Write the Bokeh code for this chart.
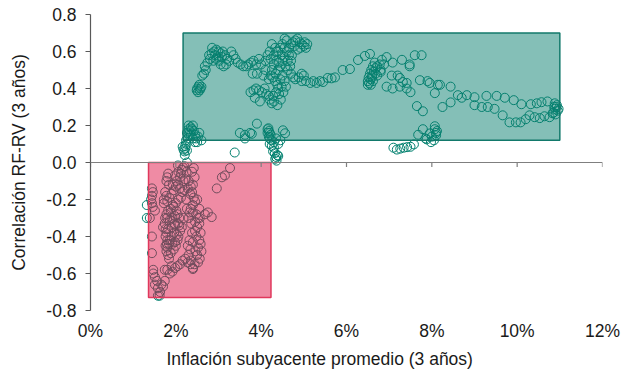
from bokeh.plotting import figure
from bokeh.models import Span, FixedTicker, NumeralTickFormatter, Range1d, Title
from bokeh.embed import file_html
from bokeh.resources import INLINE

# ---------------- data ----------------
# Regime boxes (x in %, y correlation)
box_left = [2.17, 1.36]
box_right = [11.0, 4.23]
box_top = [0.70, 0.0]
box_bottom = [0.12, -0.73]
box_fill = ["#0A8070", "#E0184A"]
box_line = ["#12796B", "#E0385C"]

# Negative-correlation episode (low inflation)
neg_x = [1.44, 1.46, 1.44, 1.42, 1.44, 1.46, 1.51, 1.39, 1.32, 1.32, 1.44, 1.44, 1.47, 1.47,
         1.51, 1.56, 1.51, 1.58, 1.63, 1.58, 1.62, 1.70, 1.74, 1.66,
         1.75, 1.78, 1.72, 1.80, 1.85, 1.90, 1.95, 2.00, 2.05, 2.10, 2.15, 2.12, 2.06, 2.00,
         1.95, 1.88, 1.82, 1.78, 1.80, 1.86, 1.92, 1.98, 2.04, 2.08, 2.05, 1.98, 1.90, 1.82,
         1.78, 1.76, 1.80, 1.84, 1.80, 1.78, 1.82, 1.88, 1.95, 2.00, 2.04, 2.02, 1.96, 1.90,
         1.86, 1.92, 1.98, 2.06, 2.10, 2.08, 1.74, 1.76, 1.79, 1.84, 1.88, 1.93, 1.97, 2.01,
         1.80, 1.82, 1.78, 1.84, 1.93, 1.98, 2.02, 2.06, 2.10, 2.14, 2.05, 2.17, 2.26, 2.20,
         2.12, 2.18, 1.72, 1.76, 1.70, 1.75,
         2.30, 2.35, 2.38, 2.42, 2.45, 2.40, 2.35, 2.40, 2.48, 2.52, 2.55, 2.50, 2.45, 2.48,
         2.55, 2.58, 2.52, 2.46, 2.50, 2.56, 2.52, 2.44, 2.40, 2.35, 2.30, 2.28, 2.32, 2.38,
         2.36, 2.30, 2.32, 2.40, 2.45, 2.58, 2.60, 2.55, 2.50, 2.25, 2.22, 2.28, 2.34, 2.40,
         2.44, 2.20, 2.24, 2.26, 2.18, 2.14, 2.38, 2.42, 2.34,
         1.80, 1.86, 1.92, 1.98, 2.04, 2.10, 2.16, 2.22, 2.28, 2.34, 1.74, 1.90, 2.40,
         2.56, 2.68, 2.75, 2.84, 2.96, 3.08, 3.15, 3.27]
neg_y = [-0.14, -0.16, -0.18, -0.20, -0.22, -0.24, -0.26, -0.30, -0.23, -0.30, -0.40, -0.49, -0.58, -0.60,
         -0.62, -0.64, -0.66, -0.68, -0.70, -0.72, -0.72, -0.67, -0.64, -0.66,
         -0.16, -0.18, -0.20, -0.21, -0.19, -0.17, -0.15, -0.13, -0.12, -0.14, -0.16, -0.19, -0.20, -0.22,
         -0.24, -0.25, -0.26, -0.28, -0.30, -0.31, -0.30, -0.29, -0.28, -0.30, -0.33, -0.34, -0.35, -0.36,
         -0.38, -0.40, -0.42, -0.44, -0.46, -0.48, -0.50, -0.49, -0.47, -0.45, -0.42, -0.39, -0.38, -0.40,
         -0.42, -0.44, -0.43, -0.40, -0.37, -0.34, -0.33, -0.36, -0.44, -0.52, -0.27, -0.23, -0.33, -0.26,
         -0.08, -0.06, -0.10, -0.12, -0.12, -0.07, -0.10, -0.05, -0.08, -0.04, -0.016, -0.027, 0.0, -0.02,
         -0.06, -0.10, -0.22, -0.45, -0.35, -0.30,
         -0.10, -0.13, -0.16, -0.19, -0.21, -0.23, -0.25, -0.27, -0.28, -0.30, -0.33, -0.35, -0.37, -0.40,
         -0.42, -0.44, -0.46, -0.48, -0.50, -0.52, -0.54, -0.55, -0.57, -0.53, -0.50, -0.45, -0.42, -0.38,
         -0.33, -0.30, -0.27, -0.43, -0.32, -0.38, -0.48, -0.25, -0.20, -0.05, -0.09, -0.14, -0.17, -0.12,
         -0.08, -0.15, -0.20, -0.25, -0.30, -0.35, -0.05, -0.03, -0.47,
         -0.58, -0.60, -0.59, -0.57, -0.56, -0.55, -0.53, -0.52, -0.54, -0.55, -0.58, -0.56, -0.576,
         -0.30, -0.28, -0.27, -0.295, -0.14, -0.08, -0.07, -0.03]

# Positive-correlation episodes (higher inflation)
pos_x = [2.21, 2.20, 2.22, 2.25, 2.28, 2.30, 2.32, 2.35, 2.38, 2.42, 2.45, 2.48, 2.50, 2.45,
         2.40, 2.35, 2.30, 2.26, 2.24, 2.22, 2.18, 2.30, 2.40, 2.55, 2.60, 2.52, 2.16, 2.26,
         2.50, 2.53, 2.56, 2.52, 2.58, 2.55, 2.60, 2.49,
         2.62, 2.66, 2.70, 2.68, 2.74, 2.80, 2.78, 2.84, 2.90, 2.95, 3.00, 3.05, 3.10, 2.92,
         2.88, 2.95, 3.02, 3.08, 3.15, 3.20, 3.25, 3.18, 3.12, 3.05, 3.00, 2.85, 3.30, 3.35,
         3.40, 3.45, 3.52, 3.58, 3.65, 3.70, 3.76, 3.82, 3.88, 3.95, 4.00, 3.80, 3.90, 4.05, 4.10,
         3.75, 3.82, 3.88, 3.95, 4.02, 4.08, 3.85, 3.97, 4.12, 4.18,
         4.20, 4.25, 4.30, 4.28, 4.35, 4.40, 4.38, 4.32, 4.28, 4.34, 4.40, 4.45, 4.42, 4.36,
         4.30, 4.25, 4.22, 4.18, 4.45, 4.50, 4.55, 4.48, 4.42, 4.46, 4.38, 4.52, 4.58, 4.50,
         4.55, 4.48, 4.40, 4.33, 4.25, 4.20, 4.15, 4.10, 4.22, 4.30, 4.36, 4.45, 4.50, 4.55,
         4.60, 4.65, 4.62, 4.57, 4.62, 4.68, 4.70, 4.72, 4.66,
         4.70, 4.75, 4.80, 4.85, 4.90, 4.95, 5.00, 5.05, 5.08, 5.02, 4.92, 4.85, 4.78, 4.60, 4.55,
         4.70, 4.75, 4.80, 4.88, 4.95, 5.00, 4.95, 5.05, 5.15, 5.22, 5.30, 5.38, 5.45, 5.56,
         5.65, 5.73, 5.91, 6.08, 6.27, 6.43, 6.55,
         6.66, 6.62, 6.58, 6.55, 6.52, 6.50, 6.50, 6.53, 6.56, 6.60, 6.64, 6.68, 6.72, 6.78,
         6.83, 6.94, 6.88, 6.80, 6.72, 6.62, 6.57, 6.60, 6.68, 6.80,
         7.08, 7.30, 7.06, 7.20, 7.25, 7.32, 7.41, 6.94, 7.08, 7.25, 7.41, 7.50, 7.48, 7.48,
         7.60, 7.76, 7.72, 7.90, 7.95, 8.14, 8.07, 7.65, 7.79,
         7.10, 7.18, 7.26, 7.34, 7.42, 7.50, 7.58, 7.68, 7.79, 7.85, 7.88, 7.95, 8.00, 8.07,
         8.07, 8.10, 8.05, 7.98, 8.10, 8.12,
         8.19, 8.44, 8.25, 8.44, 8.61, 8.70, 8.82, 9.00, 9.28, 9.52, 9.71, 9.92, 10.10, 10.32,
         10.46, 10.57, 10.71, 10.88, 9.00, 9.17, 9.31, 9.47, 9.66, 9.82, 9.97, 10.08, 10.20,
         10.29, 10.41, 10.53, 10.64, 10.76, 10.83,
         10.85, 10.88, 10.92, 10.95, 10.90, 10.93, 10.97, 10.87,
         3.38, 3.50, 3.62, 3.74, 3.90, 3.62, 3.78,
         4.15, 4.18, 4.20, 4.22, 4.18, 4.20, 4.24, 4.20, 4.25, 4.30, 4.28, 4.32, 4.35, 4.38,
         4.36, 4.33, 4.40, 4.30, 4.35, 4.40, 4.15, 4.17, 4.51, 4.56, 4.45]
pos_y = [0.04, 0.06, 0.076, 0.10, 0.13, 0.15, 0.17, 0.19, 0.18, 0.17, 0.15, 0.13, 0.11, 0.11,
         0.13, 0.15, 0.18, 0.16, 0.12, 0.09, 0.07, 0.20, 0.20, 0.16, 0.12, 0.14, 0.085, 0.065,
         0.40, 0.41, 0.39, 0.38, 0.40, 0.42, 0.41, 0.39,
         0.47, 0.48, 0.50, 0.52, 0.54, 0.56, 0.58, 0.59, 0.60, 0.61, 0.60, 0.59, 0.60, 0.58,
         0.55, 0.56, 0.55, 0.57, 0.58, 0.56, 0.55, 0.53, 0.52, 0.53, 0.57, 0.62, 0.60, 0.58,
         0.56, 0.54, 0.53, 0.52, 0.52, 0.53, 0.54, 0.55, 0.53, 0.56, 0.53, 0.48, 0.48, 0.47, 0.50,
         0.38, 0.39, 0.40, 0.39, 0.38, 0.40, 0.35, 0.33, 0.37, 0.36,
         0.34, 0.32, 0.33, 0.36, 0.38, 0.40, 0.42, 0.44, 0.46, 0.48, 0.50, 0.52, 0.54, 0.55,
         0.53, 0.50, 0.47, 0.45, 0.45, 0.47, 0.44, 0.41, 0.37, 0.34, 0.31, 0.38, 0.41, 0.55,
         0.57, 0.58, 0.60, 0.62, 0.64, 0.60, 0.58, 0.55, 0.56, 0.58, 0.60, 0.62, 0.64, 0.62,
         0.60, 0.58, 0.55, 0.52, 0.50, 0.52, 0.55, 0.58, 0.62,
         0.64, 0.65, 0.66, 0.67, 0.65, 0.64, 0.63, 0.62, 0.64, 0.65, 0.62, 0.61, 0.63, 0.66, 0.67,
         0.48, 0.46, 0.45, 0.46, 0.48, 0.47, 0.44, 0.44, 0.43, 0.44, 0.43, 0.44, 0.435, 0.457,
         0.455, 0.46, 0.50, 0.505, 0.554, 0.576, 0.587,
         0.54, 0.52, 0.50, 0.48, 0.46, 0.44, 0.42, 0.43, 0.45, 0.47, 0.49, 0.51, 0.52, 0.53,
         0.555, 0.57, 0.53, 0.50, 0.47, 0.44, 0.42, 0.46, 0.48, 0.49,
         0.54, 0.555, 0.47, 0.47, 0.457, 0.435, 0.43, 0.41, 0.40, 0.41, 0.40, 0.38, 0.53, 0.52,
         0.58, 0.58, 0.445, 0.44, 0.43, 0.42, 0.375, 0.305, 0.277,
         0.08, 0.07, 0.075, 0.08, 0.083, 0.085, 0.098, 0.15, 0.18, 0.13, 0.125, 0.157, 0.14, 0.196,
         0.18, 0.147, 0.12, 0.11, 0.16, 0.17,
         0.42, 0.41, 0.30, 0.325, 0.364, 0.35, 0.364, 0.353, 0.36, 0.36, 0.35, 0.337, 0.315, 0.315,
         0.32, 0.326, 0.33, 0.32, 0.31, 0.30, 0.30, 0.29, 0.255, 0.217, 0.217, 0.217, 0.234,
         0.255, 0.245, 0.24, 0.25, 0.245, 0.266,
         0.27, 0.29, 0.30, 0.28, 0.26, 0.31, 0.29, 0.30,
         0.054, 0.16, 0.13, 0.16, 0.21, 0.15, 0.155,
         0.18, 0.17, 0.16, 0.15, 0.14, 0.13, 0.12, 0.10, 0.09, 0.08, 0.06, 0.05, 0.03, 0.04,
         0.01, 0.02, 0.035, 0.11, 0.13, 0.10, 0.16, 0.185, 0.174, 0.158, 0.12]

x_ticks = [0, 2, 4, 6, 8, 10, 12]
y_ticks = [-0.8, -0.6, -0.4, -0.2, 0.0, 0.2, 0.4, 0.6, 0.8]
x_title = "Inflación subyacente promedio (3 años)"
y_title = "Correlación RF-RV (3 años)"

# ---------------- styling ----------------
TEAL = "#00806E"
FONT = "Liberation Sans"
FS = "17.5px"
TXT = "#1A1A1A"

p = figure(width=626, height=372, output_backend="svg", toolbar_location=None,
           x_range=Range1d(0, 12), y_range=Range1d(-0.8, 0.8),
           min_border_left=90, min_border_right=24, min_border_top=14, min_border_bottom=62)
p.outline_line_color = None
p.grid.grid_line_color = None
p.background_fill_color = "white"
p.border_fill_color = "white"

# points (drawn first; translucent boxes on top)
p.scatter(neg_x, neg_y, marker="circle", size=9, fill_color=None,
          line_color=TEAL, line_width=1)
p.scatter(pos_x, pos_y, marker="circle", size=9, fill_color=None,
          line_color=TEAL, line_width=1)

p.quad(left=box_left, right=box_right, top=box_top, bottom=box_bottom,
       fill_color=box_fill, fill_alpha=0.5, line_color=box_line, line_width=1.5)

# zero line with ticks
p.add_layout(Span(location=0, dimension="width", line_color="#7F7F7F", line_width=1.2))
p.segment(x0=x_ticks, y0=[0] * len(x_ticks), x1=x_ticks, y1=[-0.024] * len(x_ticks),
          line_color="#7F7F7F", line_width=1.2)

# x axis: labels only
xa = p.xaxis[0]
xa.ticker = FixedTicker(ticks=x_ticks)
xa.formatter = NumeralTickFormatter(format="0")
xa.major_label_overrides = {t: f"{t}%" for t in x_ticks}
xa.axis_line_color = None
xa.major_tick_line_color = None
xa.major_tick_in = 0
xa.major_tick_out = 0
xa.minor_tick_line_color = None
xa.major_label_standoff = 10
xa.major_label_text_font = FONT
xa.major_label_text_font_size = FS
xa.major_label_text_color = TXT

p.add_layout(Title(text=x_title, align="left", offset=76, standoff=6,
                   text_font=FONT, text_font_size=FS, text_font_style="normal",
                   text_color=TXT), "below")

ya = p.yaxis[0]
ya.ticker = FixedTicker(ticks=y_ticks)
ya.major_label_overrides = {t: f"{t:.1f}" for t in y_ticks}
ya.axis_line_color = "#595959"
ya.axis_line_width = 1.2
ya.major_tick_line_color = "#595959"
ya.major_tick_in = 0
ya.major_tick_out = 5
ya.minor_tick_line_color = None
ya.major_label_standoff = 9
ya.major_label_text_font = FONT
ya.major_label_text_font_size = FS
ya.major_label_text_color = TXT
ya.axis_label = y_title
ya.axis_label_text_font = FONT
ya.axis_label_text_font_size = FS
ya.axis_label_text_font_style = "normal"
ya.axis_label_text_color = TXT
ya.axis_label_standoff = 14

open("out.html", "w").write(file_html(p, INLINE))
